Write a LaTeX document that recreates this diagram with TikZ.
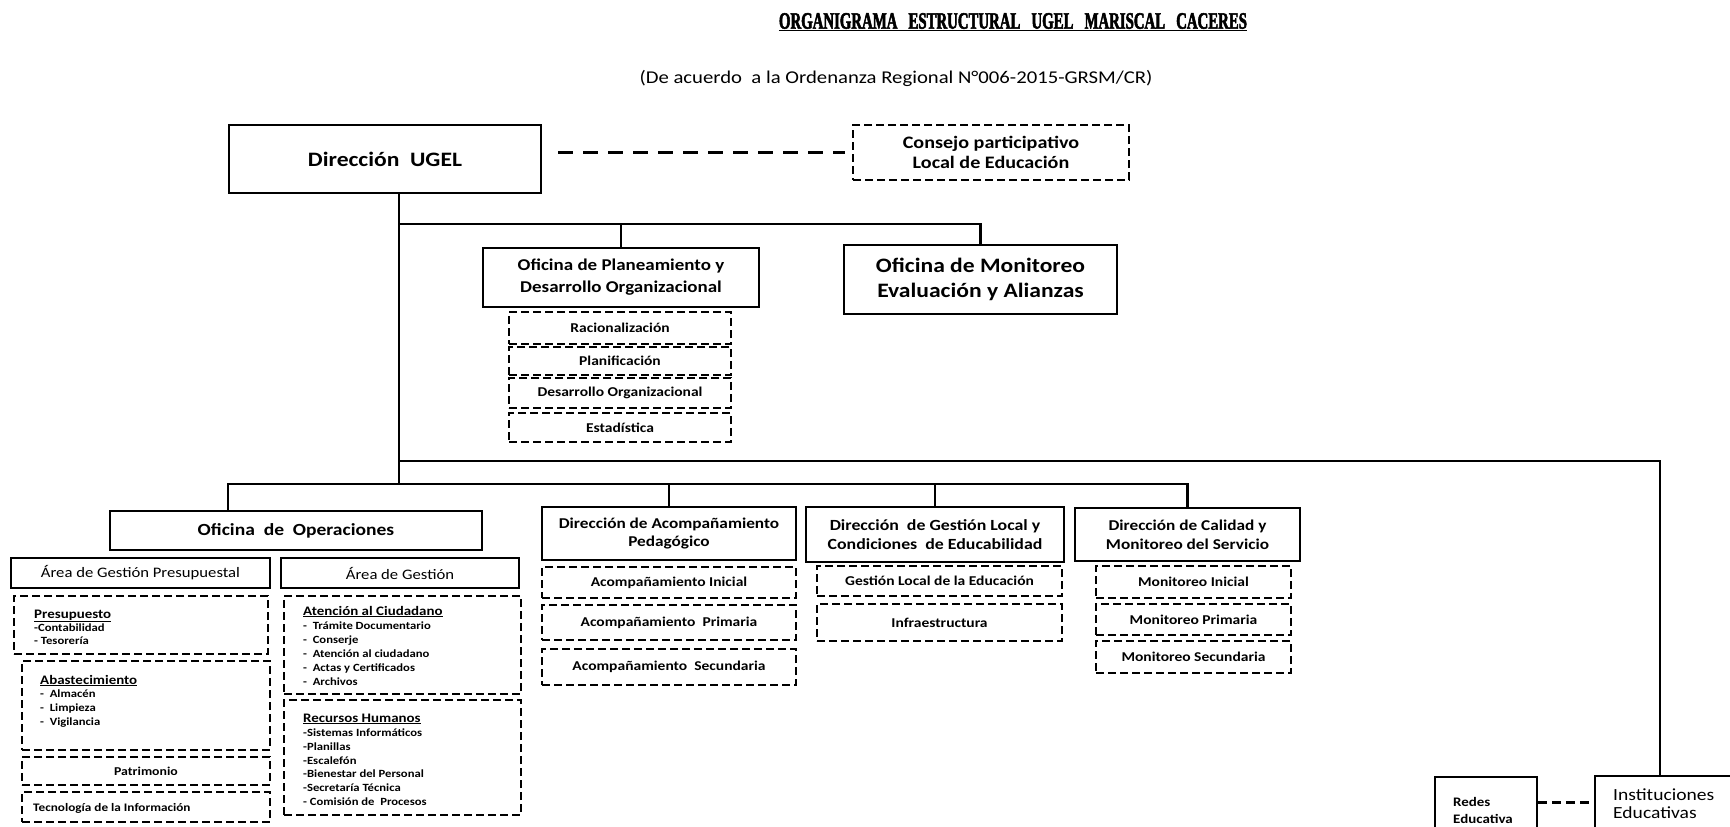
\documentclass[tikz,border=0pt]{standalone}
\usepackage{fontspec}
\setmainfont{Carlito}[FakeStretch=1.15]
\newfontfamily\titlefont{Liberation Serif}[FakeStretch=0.63,FakeBold=2.2]
\usetikzlibrary{calc}
\newcommand{\fs}[2]{\fontsize{#1}{#2}\selectfont}
\begin{document}
\begin{tikzpicture}[x=1pt,y=-1pt,
  box/.style={draw, line width=2.8pt, inner sep=2pt, align=center},
  dbox/.style={box, dash pattern=on 8pt off 4pt},
  conn/.style={line width=2.8pt},
  dline/.style={line width=3pt, dash pattern=on 15pt off 10pt},
  dline2/.style={line width=3pt, dash pattern=on 9pt off 5pt},
  itm/.style={anchor=base west, inner sep=0pt, font=\bfseries\fs{11}{14}},
  itt/.style={anchor=base west, inner sep=0pt, font=\bfseries\fs{13}{16}},
  subb/.style={dbox, font=\bfseries\fs{13.5}{16}}
]
\useasboundingbox (0,0) rectangle (1730,827);
\fill[white] (0,0) rectangle (1730,827);
\clip (0,0) rectangle (1730,827);

% titles
\node[font=\titlefont\bfseries\fs{23.5}{26}] (title) at (1013,22) {\underline{ORGANIGRAMA\ \ \ ESTRUCTURAL\ \ \ UGEL\ \ \ MARISCAL\ \ \ CACERES}};
\node[font=\fs{18}{21}] (sub) at (896,78) {(De acuerdo\ \ a la Ordenanza Regional N°006-2015-GRSM/CR)};

% top level
\node[box, minimum width=312pt, minimum height=68pt, font=\bfseries\fs{20.5}{25}] (dir) at (385,159) {Dirección\ \ UGEL};
\node[dbox, minimum width=276pt, minimum height=55pt, font=\bfseries\fs{17.5}{20}] (cons) at (991,152.5) {Consejo participativo\\Local de Educación};

\node[box, minimum width=276pt, minimum height=59pt, font=\bfseries\fs{16.5}{22}] (plan) at (621,277.5) {Oficina de Planeamiento y\\Desarrollo Organizacional};
\node[box, minimum width=273pt, minimum height=69pt, font=\bfseries\fs{20.5}{25}] (moni) at (980.5,279.5) {Oficina de Monitoreo\\Evaluación y Alianzas};

\node[subb, minimum width=222pt, minimum height=32pt] (rac) at (620,328) {Racionalización};
\node[subb, minimum width=222pt, minimum height=28pt] (plani) at (620,361) {Planificación};
\node[subb, minimum width=222pt, minimum height=30pt] (desa) at (620,393) {Desarrollo Organizacional};
\node[subb, minimum width=222pt, minimum height=29pt] (esta) at (620,427.5) {Estadística};

% operaciones
\node[box, minimum width=372pt, minimum height=39pt, font=\bfseries\fs{17}{20}] (ops) at (296,530.5) {Oficina\ \ de\ \ Operaciones};
\node[box, minimum width=259pt, minimum height=30pt, font=\fs{14.5}{18}] (agp) at (140.5,573) {Área de Gestión Presupuestal};
\node[box, minimum width=238pt, minimum height=30pt, font=\fs{14.5}{18}] (ag) at (400,573) {Área de Gestión};

\node[dbox, minimum width=254pt, minimum height=58pt] (pres) at (141,625) {};
\node[dbox, minimum width=248pt, minimum height=89pt] (abas) at (146,705.5) {};
\node[dbox, minimum width=248pt, minimum height=28pt, font=\bfseries\fs{12}{14}] (patr) at (146,771) {Patrimonio};
\node[dbox, minimum width=248pt, minimum height=30pt] (tec) at (146,807) {};
\node[dbox, minimum width=237pt, minimum height=98pt] (aten) at (402.5,645) {};
\node[dbox, minimum width=237pt, minimum height=115pt] (rrhh) at (402.5,757.5) {};

\node[itt] (p0) at (34,618) {\underline{Presupuesto}};
\node[itm] (p1) at (34,631) {-Contabilidad};
\node[itm] (p2) at (34,644) {- Tesorería};

\node[itt] (a0) at (40,684) {\underline{Abastecimiento}};
\node[itm] (a1) at (40,697) {- \ Almacén};
\node[itm] (a2) at (40,711) {- \ Limpieza};
\node[itm] (a3) at (40,725) {- \ Vigilancia};

\node[itm, font=\bfseries\fs{11.5}{13}] (tec0) at (33,811) {Tecnología de la Información};

\node[itt] (c0) at (303,615) {\underline{Atención al Ciudadano}};
\node[itm] (c1) at (303,629) {- \ Trámite Documentario};
\node[itm] (c2) at (303,643) {- \ Conserje};
\node[itm] (c3) at (303,657) {- \ Atención al ciudadano};
\node[itm] (c4) at (303,671) {- \ Actas y Certificados};
\node[itm] (c5) at (303,685) {- \ Archivos};

\node[itt] (r0) at (303,722) {\underline{Recursos Humanos}};
\node[itm] (r1) at (303,736) {-Sistemas Informáticos};
\node[itm] (r2) at (303,750) {-Planillas};
\node[itm] (r3) at (303,764) {-Escalefón};
\node[itm] (r4) at (303,777) {-Bienestar del Personal};
\node[itm] (r5) at (303,791) {-Secretaría Técnica};
\node[itm] (r6) at (303,805) {- Comisión de\ \ Procesos};

% direcciones
\node[box, minimum width=254pt, minimum height=53pt, font=\bfseries\fs{15}{18}] (acp) at (669,533.5) {Dirección de Acompañamiento\\Pedagógico};
\node[subb, minimum width=254pt, minimum height=31pt] (acpI) at (669,582.5) {Acompañamiento Inicial};
\node[subb, minimum width=254pt, minimum height=35pt] (acpP) at (669,622.5) {Acompañamiento\ \ Primaria};
\node[subb, minimum width=254pt, minimum height=36pt] (acpS) at (669,667) {Acompañamiento\ \ Secundaria};

\node[box, minimum width=258pt, minimum height=55pt, font=\bfseries\fs{15.5}{19}] (gl) at (935,534.5) {Dirección\ \ de Gestión Local\ y\\Condiciones\ \ de Educabilidad};
\node[subb, minimum width=245pt, minimum height=30pt] (glE) at (939.5,581) {Gestión Local de la Educación};
\node[subb, minimum width=245pt, minimum height=37pt] (glI) at (939.5,622.5) {Infraestructura};

\node[box, minimum width=225pt, minimum height=53pt, font=\bfseries\fs{15}{19}] (cal) at (1187.5,534.5) {Dirección de Calidad\ y\\Monitoreo del Servicio};
\node[subb, minimum width=195pt, minimum height=32pt] (calI) at (1193.5,582) {Monitoreo Inicial};
\node[subb, minimum width=195pt, minimum height=31pt] (calP) at (1193.5,619.5) {Monitoreo Primaria};
\node[subb, minimum width=195pt, minimum height=32pt] (calS) at (1193.5,657) {Monitoreo Secundaria};

% bottom right
\node[box, minimum width=102pt, minimum height=75pt] (redes) at (1486,814.5) {};
\node[box, minimum width=165pt, minimum height=76pt] (inst) at (1677.5,814) {};
\node[itm, font=\bfseries\fs{13}{16}] (rd0) at (1453,806) {Redes};
\node[itm, font=\bfseries\fs{13}{16}] (rd1) at (1453,823) {Educativa};
\node[itm, font=\fs{17}{20}] (in0) at (1613,800) {Instituciones};
\node[itm, font=\fs{17}{20}] (in1) at (1613,818) {Educativas};

% connectors
\coordinate (ja) at (399,224);
\coordinate (jb) at (399,461);
\coordinate (jc) at (399,484);
\coordinate (jd) at (228,484);
\coordinate (je) at (1660,461);
\coordinate (jf) at (0,802);

\draw[conn] (ja |- dir.south) -- (jc);
\draw[conn] (ja) -- (ja -| moni.north) -- (moni.north);
\draw[conn] (ja -| plan.north) -- (plan.north);
\draw[conn] (jb) -- (je) -- (je |- inst.north);
\draw[conn] (jd |- ops.north) -- (jd) -- (jc -| cal.north) -- (cal.north);
\draw[conn] (jc -| acp.north) -- (acp.north);
\draw[conn] (jc -| gl.north) -- (gl.north);

\draw[dline] ($(dir.east |- cons.west)+(16,0)$) -- ($(cons.west)+(-7,0)$);
\draw[dline2] (redes.east |- jf) -- (inst.west |- jf);
\end{tikzpicture}
\end{document}
